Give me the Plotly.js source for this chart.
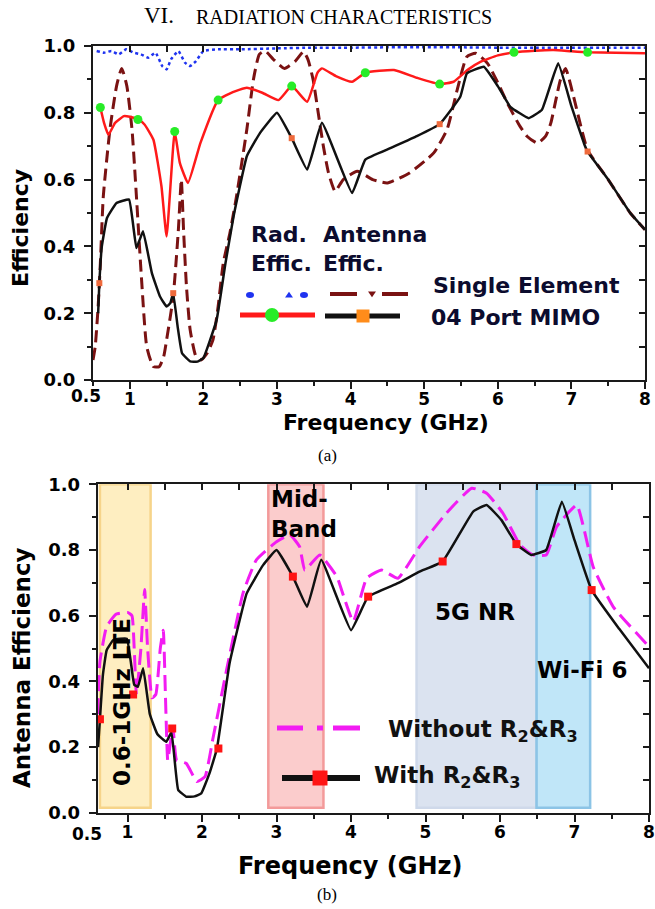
<!DOCTYPE html>
<html>
<head>
<meta charset="utf-8">
<script src="https://cdn.plot.ly/plotly-3.0.1.min.js"></script>
<style>
  html, body { margin: 0; padding: 0; background: #fff; }
  #chart { width: 655px; height: 909px; }
</style>
</head>
<body>
<div id="chart"></div>
<script>
// ---------- (a) radiation / antenna efficiency ----------
const radSingleF = [0.55, 0.65, 0.75, 0.85, 0.95, 1.05, 1.15, 1.25, 1.35, 1.44, 1.5, 1.56, 1.66, 1.75, 1.82, 1.9, 2.0, 2.2, 2.5, 3.0, 3.5, 4.0, 4.5, 5.0, 5.5, 6.0, 6.5, 7.0, 7.5, 8.0];
const radSingleV = [0.985, 0.98, 0.985, 0.975, 0.99, 0.98, 0.975, 0.965, 0.98, 0.94, 0.93, 0.96, 0.985, 0.95, 0.94, 0.955, 0.985, 0.99, 0.99, 0.993, 0.995, 0.995, 0.996, 0.996, 0.996, 0.995, 0.995, 0.995, 0.995, 0.995];

const radMimoF = [0.6, 0.65, 0.71, 0.8, 0.92, 1.0, 1.11, 1.2, 1.32, 1.43, 1.5, 1.61, 1.68, 1.79, 1.96, 2.2, 2.4, 2.59, 2.8, 3.02, 3.2, 3.41, 3.55, 3.61, 3.8, 4.02, 4.2, 4.59, 4.9, 5.21, 5.4, 5.6, 5.77, 6.0, 6.22, 6.5, 6.76, 7.0, 7.22, 7.6, 8.0];
const radMimoV = [0.816, 0.77, 0.734, 0.77, 0.79, 0.788, 0.78, 0.765, 0.72, 0.58, 0.43, 0.744, 0.65, 0.59, 0.71, 0.838, 0.862, 0.875, 0.86, 0.838, 0.88, 0.833, 0.92, 0.933, 0.91, 0.893, 0.92, 0.928, 0.905, 0.886, 0.893, 0.93, 0.953, 0.972, 0.981, 0.986, 0.988, 0.984, 0.981, 0.98, 0.978];

const antSingleF = [0.5, 0.53, 0.57, 0.6, 0.64, 0.73, 0.82, 0.89, 0.96, 1.03, 1.09, 1.16, 1.23, 1.32, 1.4, 1.46, 1.5, 1.59, 1.66, 1.7, 1.73, 1.77, 1.82, 1.9, 1.97, 2.05, 2.13, 2.2, 2.27, 2.36, 2.45, 2.59, 2.68, 2.76, 2.84, 2.95, 3.1, 3.25, 3.36, 3.42, 3.49, 3.56, 3.63, 3.7, 3.79, 3.9, 4.09, 4.3, 4.5, 4.8, 5.13, 5.31, 5.45, 5.58, 5.7, 5.86, 6.0, 6.13, 6.3, 6.4, 6.54, 6.65, 6.72, 6.8, 6.85, 6.92, 7.03, 7.22, 7.5, 7.8, 8.0];
const antSingleV = [0.06, 0.1, 0.22, 0.35, 0.55, 0.75, 0.88, 0.933, 0.88, 0.75, 0.55, 0.30, 0.10, 0.04, 0.04, 0.07, 0.12, 0.25, 0.45, 0.6, 0.45, 0.28, 0.15, 0.07, 0.06, 0.08, 0.12, 0.22, 0.35, 0.44, 0.55, 0.75, 0.9, 0.975, 0.985, 0.96, 0.933, 0.955, 0.983, 0.96, 0.9, 0.8, 0.7, 0.62, 0.565, 0.6, 0.625, 0.6, 0.59, 0.62, 0.68, 0.75, 0.87, 0.968, 0.978, 0.948, 0.89, 0.829, 0.76, 0.729, 0.709, 0.73, 0.769, 0.85, 0.898, 0.933, 0.848, 0.689, 0.6, 0.5, 0.45];

const antMimoF = [0.57, 0.586, 0.62, 0.69, 0.82, 0.99, 1.09, 1.18, 1.3, 1.41, 1.5, 1.55, 1.59, 1.65, 1.71, 1.82, 1.92, 2.0, 2.18, 2.3, 2.41, 2.59, 2.77, 3.0, 3.2, 3.41, 3.61, 4.02, 4.2, 4.54, 4.9, 5.21, 5.49, 5.58, 5.81, 6.0, 6.17, 6.42, 6.6, 6.82, 7.0, 7.17, 7.22, 7.5, 7.8, 8.0];
const antMimoV = [0.2, 0.29, 0.4, 0.485, 0.53, 0.54, 0.395, 0.445, 0.32, 0.25, 0.22, 0.23, 0.26, 0.16, 0.08, 0.056, 0.055, 0.066, 0.18, 0.35, 0.49, 0.67, 0.74, 0.80, 0.724, 0.63, 0.77, 0.56, 0.66, 0.694, 0.73, 0.766, 0.848, 0.918, 0.938, 0.88, 0.818, 0.784, 0.809, 0.948, 0.82, 0.709, 0.684, 0.6, 0.5, 0.45];

const radMimoMarkF = [0.6, 1.11, 1.61, 2.2, 3.2, 4.2, 5.21, 6.22, 7.22];
const radMimoMarkV = [0.816, 0.78, 0.744, 0.838, 0.88, 0.92, 0.886, 0.981, 0.981];
const antMimoMarkF = [0.586, 1.59, 3.2, 5.21, 7.22];
const antMimoMarkV = [0.29, 0.26, 0.724, 0.766, 0.684];

// ---------- (b) antenna efficiency with / without R2 & R3 ----------
const withF = [0.605, 0.63, 0.67, 0.72, 0.81, 0.99, 1.05, 1.09, 1.14, 1.21, 1.3, 1.4, 1.52, 1.59, 1.68, 1.79, 1.9, 1.99, 2.1, 2.2, 2.37, 2.6, 2.82, 3.0, 3.22, 3.41, 3.6, 4.0, 4.23, 4.63, 4.92, 5.23, 5.64, 5.82, 6.02, 6.22, 6.42, 6.62, 6.83, 7.0, 7.23, 7.6, 8.0];
const withV = [0.2, 0.285, 0.42, 0.495, 0.526, 0.53, 0.45, 0.39, 0.384, 0.44, 0.30, 0.24, 0.216, 0.245, 0.07, 0.049, 0.05, 0.059, 0.12, 0.195, 0.455, 0.668, 0.754, 0.80, 0.719, 0.627, 0.77, 0.556, 0.658, 0.699, 0.734, 0.765, 0.917, 0.937, 0.891, 0.818, 0.785, 0.80, 0.947, 0.83, 0.678, 0.56, 0.44];

const withoutF = [0.6, 0.63, 0.72, 0.85, 1.0, 1.06, 1.09, 1.12, 1.18, 1.23, 1.27, 1.33, 1.38, 1.44, 1.48, 1.51, 1.54, 1.58, 1.61, 1.66, 1.79, 1.93, 2.04, 2.15, 2.33, 2.55, 2.73, 3.0, 3.18, 3.31, 3.38, 3.58, 3.81, 3.9, 4.03, 4.21, 4.41, 4.63, 4.92, 5.28, 5.62, 5.82, 6.04, 6.27, 6.44, 6.62, 6.76, 7.03, 7.12, 7.25, 7.52, 8.0];
const withoutV = [0.3, 0.46, 0.567, 0.605, 0.61, 0.6, 0.5, 0.36, 0.5, 0.68, 0.5, 0.35, 0.36, 0.5, 0.556, 0.35, 0.16, 0.22, 0.262, 0.16, 0.15, 0.095, 0.11, 0.23, 0.435, 0.668, 0.77, 0.825, 0.846, 0.81, 0.739, 0.785, 0.719, 0.66, 0.582, 0.714, 0.739, 0.714, 0.81, 0.912, 0.988, 0.973, 0.912, 0.815, 0.785, 0.785, 0.871, 0.937, 0.871, 0.749, 0.627, 0.506];

const withMarkF = [0.63, 1.075, 1.6, 2.22, 3.22, 4.23, 5.23, 6.22, 7.23];
const withMarkV = [0.285, 0.36, 0.257, 0.196, 0.719, 0.658, 0.765, 0.818, 0.678];

// frequency bands highlighted in (b)
const bandNames = ["0.6-1GHz LTE", "Mid-<br>Band", "5G NR", "Wi-Fi 6"];
const bandLo = [0.63, 2.89, 4.88, 6.49];
const bandHi = [1.31, 3.63, 6.49, 7.21];

const freqTicks = [1, 2, 3, 4, 5, 6, 7, 8];

// ---------- helpers ----------
const W = 655, H = 909;
const PX = x => x / W;          // page pixel -> paper x
const PY = y => 1 - y / H;      // page pixel -> paper y
const FONT = 'DejaVu Sans, Arial, sans-serif';
const SERIF = 'Liberation Serif, Times New Roman, serif';
const INK = '#0c0c2e';

const traces = [
  // (a)
  { x: radSingleF, y: radSingleV, xaxis: 'x', yaxis: 'y', mode: 'lines',
    line: { color: '#1f33f0', width: 2.5, dash: 'dot', shape: 'spline', smoothing: 0.4 } },
  { x: antSingleF, y: antSingleV, xaxis: 'x', yaxis: 'y', mode: 'lines',
    line: { color: '#7a1212', width: 3, dash: '12px,6px', shape: 'spline', smoothing: 0.5 } },
  { x: radMimoF, y: radMimoV, xaxis: 'x', yaxis: 'y', mode: 'lines',
    line: { color: '#ff1a1a', width: 2.5, shape: 'spline', smoothing: 0.4 } },
  { x: antMimoF, y: antMimoV, xaxis: 'x', yaxis: 'y', mode: 'lines',
    line: { color: '#111111', width: 2.5, shape: 'spline', smoothing: 0.3 } },
  { x: radMimoMarkF, y: radMimoMarkV, xaxis: 'x', yaxis: 'y', mode: 'markers',
    marker: { symbol: 'circle', size: 9, color: '#27ec27' } },
  { x: antMimoMarkF, y: antMimoMarkV, xaxis: 'x', yaxis: 'y', mode: 'markers',
    marker: { symbol: 'square', size: 6, color: '#ef6a3c' } },
  // (b)
  { x: withoutF, y: withoutV, xaxis: 'x2', yaxis: 'y2', mode: 'lines',
    line: { color: '#f21cf2', width: 3, dash: '16px,7px', shape: 'spline', smoothing: 0.4 } },
  { x: withF, y: withV, xaxis: 'x2', yaxis: 'y2', mode: 'lines',
    line: { color: '#111111', width: 2.5, shape: 'spline', smoothing: 0.3 } },
  { x: withMarkF, y: withMarkV, xaxis: 'x2', yaxis: 'y2', mode: 'markers',
    marker: { symbol: 'square', size: 8, color: '#ff1414' } },
  // mirror frame axes (top / right, ticks inward)
  { x: [], y: [], xaxis: 'x3', yaxis: 'y', mode: 'lines', hoverinfo: 'skip' },
  { x: [], y: [], xaxis: 'x', yaxis: 'y3', mode: 'lines', hoverinfo: 'skip' },
  { x: [], y: [], xaxis: 'x4', yaxis: 'y2', mode: 'lines', hoverinfo: 'skip' },
  { x: [], y: [], xaxis: 'x2', yaxis: 'y4', mode: 'lines', hoverinfo: 'skip' }
];

const tickFontX = { family: FONT, size: 17, color: '#000', weight: 'bold' };
const tickFontY = { family: FONT, size: 18, color: '#000', weight: 'bold' };
const LINE = '#1a1a1a';

function baseX(domain, range, anchor) {
  return {
    domain, range, anchor, tickmode: 'array', tickvals: freqTicks,
    ticks: 'outside', ticklen: 7, tickwidth: 2, tickcolor: LINE, ticklabelstandoff: -4,
    minor: { tick0: 0.5, dtick: 0.5, ticks: 'outside', ticklen: 4, tickwidth: 2, tickcolor: LINE },
    showline: true, linewidth: 2, linecolor: LINE, showgrid: false, zeroline: false,
    tickfont: tickFontX, fixedrange: true
  };
}
function baseY(domain, anchor) {
  return {
    domain, range: [0, 1], anchor, tickmode: 'linear', tick0: 0, dtick: 0.2, tickformat: '.1f',
    ticks: 'outside', ticklen: 7, tickwidth: 2, tickcolor: LINE, ticklabelstandoff: 5,
    minor: { dtick: 0.1, ticks: 'outside', ticklen: 4, tickwidth: 2, tickcolor: LINE },
    showline: true, linewidth: 2, linecolor: LINE, showgrid: false, zeroline: false,
    tickfont: tickFontY, fixedrange: true
  };
}
function mirrorX(over, range, anchor) {
  return {
    overlaying: over, side: 'top', anchor, range, tickmode: 'linear', tick0: 0.5, dtick: 0.5,
    ticks: 'inside', ticklen: 6, tickwidth: 2, tickcolor: LINE, showticklabels: false,
    showline: true, linewidth: 2, linecolor: LINE, showgrid: false, zeroline: false, fixedrange: true
  };
}
function mirrorY(over, anchor) {
  return {
    overlaying: over, side: 'right', anchor, range: [0, 1], tickmode: 'linear', tick0: 0, dtick: 0.1,
    ticks: 'inside', ticklen: 6, tickwidth: 2, tickcolor: LINE, showticklabels: false,
    showline: true, linewidth: 2, linecolor: LINE, showgrid: false, zeroline: false, fixedrange: true
  };
}

const xDomA = [PX(93), PX(645)], yDomA = [PY(380), PY(46)];
const xDomB = [PX(97.7), PX(649)], yDomB = [PY(812.8), PY(484.3)];

// ---------- shapes ----------
const bandFill = ['rgba(253,232,172,0.75)', 'rgba(248,170,170,0.6)', 'rgba(200,212,232,0.65)', 'rgba(150,214,244,0.6)'];
const bandEdge = ['#f6d48a', '#f39a9a', '#cfd9ea', '#8cc4e6'];
const shapes = [];
bandNames.forEach((_, i) => {
  shapes.push({ type: 'rect', xref: 'x2', yref: 'y2', x0: bandLo[i], x1: bandHi[i], y0: 0.015, y1: 1,
    fillcolor: bandFill[i], line: { color: bandEdge[i], width: 2.5 }, layer: 'below' });
});

function hline(x0, x1, y, color, width) {
  return { type: 'line', xref: 'paper', yref: 'paper', x0: PX(x0), x1: PX(x1), y0: PY(y), y1: PY(y),
    line: { color, width } };
}
function box(kind, cx, cy, w, h, color) {
  return { type: kind, xref: 'paper', yref: 'paper', x0: PX(cx - w / 2), x1: PX(cx + w / 2),
    y0: PY(cy + h / 2), y1: PY(cy - h / 2), fillcolor: color, line: { width: 0 } };
}
function tri(cx, cy, s, up, color) {
  const a = up ? -1 : 1;
  const p = `M ${PX(cx - s)} ${PY(cy - a * s * 0.6)} L ${PX(cx + s)} ${PY(cy - a * s * 0.6)} L ${PX(cx)} ${PY(cy + a * s * 0.8)} Z`;
  return { type: 'path', xref: 'paper', yref: 'paper', path: p, fillcolor: color, line: { width: 0 } };
}

// legend keys of (a)
shapes.push(box('circle', 250, 295, 8, 6, '#1f33f0'));
shapes.push(tri(289, 295, 4, true, '#1f33f0'));
shapes.push(box('circle', 304, 295, 8, 6, '#1f33f0'));
shapes.push(hline(240, 315, 315, '#ff1a1a', 5));
shapes.push(box('circle', 272, 315, 14, 14, '#27ec27'));
shapes.push(hline(330, 357, 294, '#7a1212', 4));
shapes.push(hline(382, 408, 294, '#7a1212', 4));
shapes.push(tri(372, 294, 4, false, '#7a1212'));
shapes.push(hline(325, 400, 316, '#111111', 5));
shapes.push(box('rect', 363, 316, 13, 13, '#ff8c1a'));
// legend keys of (b)
shapes.push(hline(277, 303, 728, '#f21cf2', 5));
shapes.push(hline(317, 323, 728, '#f21cf2', 5));
shapes.push(hline(333, 360, 728, '#f21cf2', 5));
shapes.push(hline(282, 360, 778, '#111111', 6));
shapes.push(box('rect', 320, 778, 15, 15, '#ff1414'));

// ---------- text ----------
function txt(text, x, y, size, opts = {}) {
  return Object.assign({ xref: 'paper', yref: 'paper', x: PX(x), y: PY(y), text, showarrow: false,
    xanchor: 'left', yanchor: 'middle',
    font: { family: FONT, size, color: INK, weight: 'bold' } }, opts);
}
const annotations = [
  txt('VI.', 142, 16, 23, { font: { family: SERIF, size: 23, color: '#000' } }),
  txt('RADIATION CHARACTERISTICS', 194, 17, 20, { font: { family: SERIF, size: 20, color: '#000' } }),
  // (a) legend
  txt('Rad.', 249, 234, 22),
  txt('Antenna', 321, 234, 22),
  txt('Effic.', 249, 263, 22),
  txt('Effic.', 321, 263, 22),
  txt('Single Element', 431, 285, 22),
  txt('04 Port MIMO', 429, 317, 22),
  // (a) axis titles
  txt('Frequency (GHz)', 385.5, 422, 22, { xanchor: 'center', font: { family: FONT, size: 22, color: '#000', weight: 'bold' } }),
  txt('Efficiency', 21, 228, 22, { xanchor: 'center', textangle: -90, font: { family: FONT, size: 22, color: '#000', weight: 'bold' } }),
  txt('0.5', 86, 396, 17, { xanchor: 'center', font: tickFontX }),
  txt('(a)', 327, 456, 17, { xanchor: 'center', font: { family: SERIF, size: 17, color: '#000' } }),
  // (b) bands
  txt(bandNames[0], 122, 702, 23, { xanchor: 'center', textangle: -90, font: { family: FONT, size: 23, color: '#000', weight: 'bold' } }),
  txt(bandNames[1], 269, 514, 23, { yanchor: 'middle', align: 'left', font: { family: FONT, size: 23, color: '#000', weight: 'bold' } }),
  txt(bandNames[2], 475, 612, 23, { xanchor: 'center', font: { family: FONT, size: 23, color: '#000', weight: 'bold' } }),
  txt(bandNames[3], 582, 670, 23, { xanchor: 'center', font: { family: FONT, size: 23, color: '#000', weight: 'bold' } }),
  // (b) legend
  txt('Without R<sub>2</sub>&amp;R<sub>3</sub>', 386, 731, 23, { font: { family: FONT, size: 23, color: '#111', weight: 'bold' } }),
  txt('With R<sub>2</sub>&amp;R<sub>3</sub>', 372, 777, 23, { font: { family: FONT, size: 23, color: '#111', weight: 'bold' } }),
  // (b) axis titles
  txt('Frequency (GHz)', 350, 866, 24, { xanchor: 'center', font: { family: FONT, size: 24, color: '#000', weight: 'bold' } }),
  txt('Antenna Efficiency', 22, 668, 23, { xanchor: 'center', textangle: -90, font: { family: FONT, size: 23, color: '#000', weight: 'bold' } }),
  txt('0.5', 87, 834, 17, { xanchor: 'center', font: tickFontX }),
  txt('(b)', 327, 894, 17, { xanchor: 'center', font: { family: SERIF, size: 17, color: '#000' } })
];

const layout = {
  width: W, height: H, margin: { l: 0, r: 0, t: 0, b: 0 },
  paper_bgcolor: '#fff', plot_bgcolor: 'rgba(0,0,0,0)', showlegend: false,
  xaxis: baseX(xDomA, [0.5, 8], 'y'),
  yaxis: baseY(yDomA, 'x'),
  xaxis2: baseX(xDomB, [0.6, 8], 'y2'),
  yaxis2: baseY(yDomB, 'x2'),
  xaxis3: mirrorX('x', [0.5, 8], 'y'),
  yaxis3: mirrorY('y', 'x'),
  xaxis4: mirrorX('x2', [0.6, 8], 'y2'),
  yaxis4: mirrorY('y2', 'x2'),
  shapes, annotations
};

Plotly.newPlot('chart', traces, layout, { staticPlot: true, displayModeBar: false });
</script>
</body>
</html>
